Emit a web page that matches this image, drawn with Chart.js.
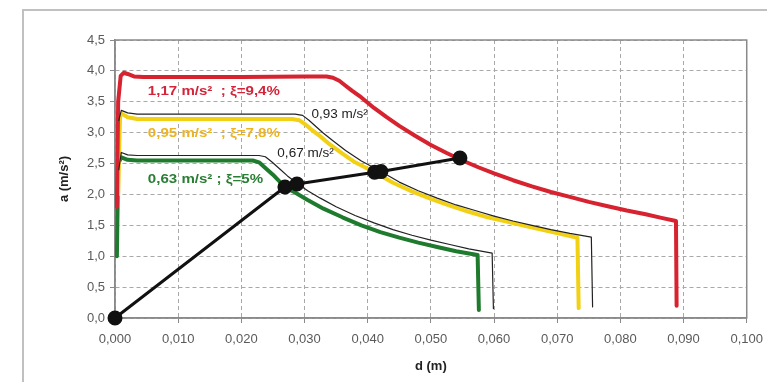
<!DOCTYPE html>
<html>
<head>
<meta charset="utf-8">
<style>
  html, body { margin: 0; padding: 0; background: #ffffff; }
  #wrap { position: relative; width: 772px; height: 382px; }
</style>
<script src="https://cdn.jsdelivr.net/npm/chart.js@4"></script>
</head>
<body>
<div id="wrap"><canvas id="c" width="772" height="382"></canvas></div>
<script>
// ---------------- data ----------------
const xTicks = [0, 0.01, 0.02, 0.03, 0.04, 0.05, 0.06, 0.07, 0.08, 0.09, 0.1];
const yTicks = [0, 0.5, 1, 1.5, 2, 2.5, 3, 3.5, 4, 4.5];

// red: 1,17 m/s² ; ξ=9,4%
const dRed = [0.0003, 0.0005, 0.0009, 0.0014, 0.0020, 0.0030, 0.0045, 0.0100, 0.0200, 0.0300, 0.0335, 0.0345, 0.0355, 0.0365, 0.0375, 0.0390, 0.0410, 0.0430, 0.0450, 0.0475, 0.0500, 0.0525, 0.0550, 0.0575, 0.0600, 0.0630, 0.0660, 0.0690, 0.0720, 0.0750, 0.0780, 0.0810, 0.0840, 0.0865, 0.0888, 0.0889];
const aRed = [1.80, 3.50, 3.92, 3.97, 3.95, 3.91, 3.90, 3.90, 3.90, 3.91, 3.91, 3.89, 3.84, 3.76, 3.68, 3.57, 3.40, 3.25, 3.11, 2.95, 2.80, 2.67, 2.55, 2.44, 2.34, 2.23, 2.13, 2.04, 1.96, 1.88, 1.81, 1.74, 1.68, 1.62, 1.57, 0.20];

// black thin: 0,93 m/s²
const dBlk93 = [0.0006, 0.0010, 0.0020, 0.0035, 0.0100, 0.0200, 0.0285, 0.0297, 0.0307, 0.0318, 0.0330, 0.0345, 0.0365, 0.0390, 0.0421, 0.0450, 0.0480, 0.0510, 0.0540, 0.0570, 0.0600, 0.0630, 0.0660, 0.0690, 0.0720, 0.0754, 0.0756];
const aBlk93 = [3.20, 3.36, 3.32, 3.30, 3.30, 3.30, 3.30, 3.28, 3.20, 3.10, 2.99, 2.87, 2.71, 2.54, 2.37, 2.20, 2.06, 1.94, 1.83, 1.74, 1.65, 1.57, 1.50, 1.43, 1.37, 1.31, 0.18];

// yellow: 0,95 m/s² ; ξ=7,8%
const dYel = [0.0005, 0.0008, 0.0012, 0.0020, 0.0035, 0.0100, 0.0200, 0.0280, 0.0292, 0.0302, 0.0312, 0.0325, 0.0340, 0.0360, 0.0380, 0.0411, 0.0440, 0.0470, 0.0500, 0.0530, 0.0560, 0.0590, 0.0620, 0.0650, 0.0680, 0.0710, 0.0732, 0.0734];
const aYel = [2.00, 3.28, 3.30, 3.25, 3.22, 3.22, 3.22, 3.22, 3.20, 3.13, 3.04, 2.94, 2.81, 2.66, 2.52, 2.36, 2.19, 2.05, 1.93, 1.82, 1.72, 1.63, 1.56, 1.49, 1.42, 1.35, 1.30, 0.16];

// black thin: 0,67 m/s²
const dBlk67 = [0.0006, 0.0010, 0.0020, 0.0035, 0.0100, 0.0200, 0.0228, 0.0238, 0.0248, 0.0260, 0.0273, 0.0288, 0.0305, 0.0325, 0.0350, 0.0380, 0.0410, 0.0440, 0.0470, 0.0500, 0.0530, 0.0560, 0.0597, 0.0599];
const aBlk67 = [2.40, 2.68, 2.64, 2.63, 2.63, 2.63, 2.63, 2.61, 2.53, 2.42, 2.30, 2.18, 2.06, 1.94, 1.80, 1.66, 1.54, 1.43, 1.34, 1.26, 1.19, 1.12, 1.05, 0.15];

// green: 0,63 m/s² ; ξ=5%
const dGrn = [0.0003, 0.0005, 0.0010, 0.0020, 0.0035, 0.0100, 0.0200, 0.0218, 0.0228, 0.0238, 0.0250, 0.0269, 0.0285, 0.0305, 0.0330, 0.0360, 0.0390, 0.0420, 0.0450, 0.0480, 0.0510, 0.0540, 0.0574, 0.0576];
const aGrn = [1.00, 2.50, 2.60, 2.56, 2.55, 2.55, 2.55, 2.55, 2.52, 2.43, 2.32, 2.12, 2.03, 1.91, 1.77, 1.63, 1.50, 1.39, 1.30, 1.22, 1.15, 1.08, 1.02, 0.13];

// black thick line with points (performance points)
const dPts = [0, 0.0269, 0.0288, 0.0411, 0.0421, 0.0546];
const aPts = [0, 2.12, 2.17, 2.36, 2.37, 2.59];

// text labels on the chart (data coordinates)
const labelTexts = ['1,17 m/s²  ; ξ=9,4%', '0,95 m/s²  ; ξ=7,8%', '0,93 m/s²', '0,67 m/s²', '0,63 m/s² ; ξ=5%'];
const labelD = [0.0052, 0.0052, 0.0311, 0.0257, 0.0052];
const labelA = [3.67, 2.99, 3.29, 2.67, 2.25];

// ---------------- helpers ----------------
const pts = (d, a) => d.map((v, i) => ({ x: v, y: a[i] }));
const FONT = '"Liberation Sans", Arial, sans-serif';
const labelStyle = [
  { color: '#d4243a', bold: true, sx: 1.16 },
  { color: '#ecb422', bold: true, sx: 1.16 },
  { color: '#222222', bold: false, sx: 1.04 },
  { color: '#222222', bold: false, sx: 1.04 },
  { color: '#2a7d34', bold: true, sx: 1.16 }
];

const framePlugin = {
  id: 'frame',
  beforeDraw(chart) {
    const ctx = chart.ctx;
    ctx.save();
    ctx.fillStyle = '#ffffff';
    ctx.fillRect(0, 0, chart.width, chart.height);
    ctx.strokeStyle = '#c0c0c0';
    ctx.lineWidth = 2;
    ctx.beginPath();
    ctx.moveTo(23, 400);
    ctx.lineTo(23, 10);
    ctx.lineTo(767, 10);
    ctx.stroke();
    ctx.restore();
  },
  beforeDatasetsDraw(chart) {
    const a = chart.chartArea;
    const ctx = chart.ctx;
    ctx.save();
    ctx.strokeStyle = '#8a8a8a';
    ctx.lineWidth = 1.5;
    ctx.strokeRect(a.left, a.top, a.right - a.left, a.bottom - a.top);
    ctx.restore();
  },
  afterDatasetsDraw(chart) {
    const ctx = chart.ctx;
    const xs = chart.scales.x, ys = chart.scales.y;
    labelTexts.forEach((t, i) => {
      const st = labelStyle[i];
      ctx.save();
      ctx.textBaseline = 'middle';
      ctx.textAlign = 'left';
      ctx.font = (st.bold ? 'bold ' : '') + '13px ' + FONT;
      ctx.fillStyle = st.color;
      ctx.translate(xs.getPixelForValue(labelD[i]), ys.getPixelForValue(labelA[i]));
      ctx.scale(st.sx, 1);
      ctx.fillText(t, 0, 0);
      ctx.restore();
    });
  }
};

const ctx = document.getElementById('c');
new Chart(ctx, {
  type: 'scatter',
  data: {
    datasets: [
      { label: 'points', data: pts(dPts, aPts), showLine: true, borderColor: '#111111', borderWidth: 3,
        pointRadius: 6, pointBackgroundColor: '#111111', pointBorderColor: '#111111', clip: false, order: 0 },
      { label: '0,93', data: pts(dBlk93, aBlk93), showLine: true, borderColor: '#222222', borderWidth: 1.2, pointRadius: 0, order: 1 },
      { label: '0,67', data: pts(dBlk67, aBlk67), showLine: true, borderColor: '#222222', borderWidth: 1.2, pointRadius: 0, order: 2 },
      { label: '1,17', data: pts(dRed, aRed), showLine: true, borderColor: '#d6232f', borderWidth: 4, pointRadius: 0, order: 3 },
      { label: '0,95', data: pts(dYel, aYel), showLine: true, borderColor: '#f2d014', borderWidth: 4, pointRadius: 0, order: 4 },
      { label: '0,63', data: pts(dGrn, aGrn), showLine: true, borderColor: '#1e7a2c', borderWidth: 4, pointRadius: 0, order: 5 }
    ]
  },
  options: {
    responsive: false,
    animation: false,
    events: [],
    layout: { padding: { left: 0, right: 25, top: 40, bottom: 0 } },
    plugins: { legend: { display: false }, tooltip: { enabled: false } },
    elements: { line: { tension: 0, borderJoinStyle: 'round', borderCapStyle: 'round' } },
    scales: {
      x: {
        type: 'linear', min: xTicks[0], max: xTicks[xTicks.length - 1],
        afterBuildTicks: (s) => { s.ticks = xTicks.map(v => ({ value: v })); },
        afterFit: (s) => { s.height = 64; },
        ticks: { callback: (v) => Number(v).toFixed(3).replace('.', ','), color: '#5a5a5a', padding: 9,
                 font: { family: FONT, size: 13 }, maxRotation: 0 },
        grid: { color: '#a8a8a8', tickLength: 5, tickColor: '#8a8a8a' },
        border: { display: true, color: '#8a8a8a', width: 1.5, dash: [4, 3] },
        title: { display: true, text: 'd (m)', color: '#222222', padding: { top: 8, bottom: 8 },
                 font: { family: FONT, size: 13, weight: 'bold' } }
      },
      y: {
        type: 'linear', min: yTicks[0], max: yTicks[yTicks.length - 1],
        afterBuildTicks: (s) => { s.ticks = yTicks.map(v => ({ value: v })); },
        afterFit: (s) => { s.width = 115; },
        ticks: { callback: (v) => Number(v).toFixed(1).replace('.', ','), color: '#5a5a5a', padding: 5,
                 font: { family: FONT, size: 13 } },
        grid: { color: '#a8a8a8', tickLength: 5, tickColor: '#8a8a8a' },
        border: { display: true, color: '#8a8a8a', width: 1.5, dash: [4, 3] },
        title: { display: true, text: 'a (m/s²)', color: '#222222', padding: { top: 57, bottom: 0 },
                 font: { family: FONT, size: 13, weight: 'bold' } }
      }
    }
  },
  plugins: [framePlugin]
});
</script>
</body>
</html>
